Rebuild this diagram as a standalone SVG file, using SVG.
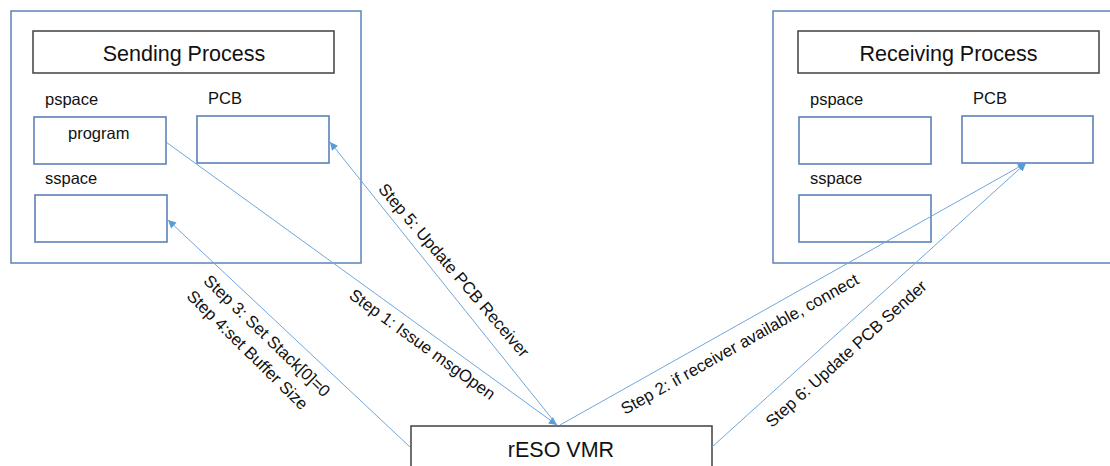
<svg xmlns="http://www.w3.org/2000/svg" width="1110" height="466" viewBox="0 0 1110 466">
<style>
.outer{fill:#fff;stroke:#5b83b8;stroke-width:1.5}
.title{fill:#fff;stroke:#404040;stroke-width:1.5}
.inner{fill:#fff;stroke:#5b83b8;stroke-width:1.6}
.conn{fill:none;stroke:#6fa6dc;stroke-width:1}
.big{font-family:"Liberation Sans",Arial,sans-serif;font-size:21.5px;fill:#111}
.lbl{font-family:"Liberation Sans",Arial,sans-serif;font-size:16.5px;fill:#111}
.step{font-family:"Liberation Sans",Arial,sans-serif;font-size:16.8px;fill:#111;text-anchor:middle}
</style>
<defs>
<marker id="ah" viewBox="0 0 10 10" refX="10" refY="5" markerWidth="9" markerHeight="8" markerUnits="userSpaceOnUse" orient="auto">
<path d="M0,0 L10,5 L0,10 z" fill="#5b9bd5"/>
</marker>
</defs>
<rect width="1110" height="466" fill="#fff"/>
<g id="sending">
<rect class="outer" x="11" y="11" width="350" height="252"/>
<g id="sending-title"><rect class="title" x="33" y="31" width="301" height="42"/><text class="big" x="184" y="60.5" text-anchor="middle">Sending Process</text></g>
<text class="lbl" x="45" y="105">pspace</text>
<text class="lbl" x="208" y="104">PCB</text>
<g id="s-pspace"><rect class="inner" x="34" y="117" width="132" height="47"/><text class="lbl" x="68" y="139">program</text></g>
<g id="s-pcb"><rect class="inner" x="197" y="116" width="132" height="47"/></g>
<text class="lbl" x="45" y="184">sspace</text>
<g id="s-sspace"><rect class="inner" x="35" y="195" width="132" height="47"/></g>
</g>
<g id="receiving">
<rect class="outer" x="773" y="11" width="345" height="252"/>
<g id="receiving-title"><rect class="title" x="798" y="31" width="301" height="42"/><text class="big" x="948.5" y="60.5" text-anchor="middle">Receiving Process</text></g>
<text class="lbl" x="810" y="105">pspace</text>
<text class="lbl" x="973" y="104">PCB</text>
<g id="r-pspace"><rect class="inner" x="799" y="117" width="132" height="47"/></g>
<g id="r-pcb"><rect class="inner" x="962" y="116" width="131" height="47"/></g>
<text class="lbl" x="810" y="184">sspace</text>
<g id="r-sspace"><rect class="inner" x="799" y="195" width="132" height="47"/></g>
</g>
<g id="vmr">
<rect class="title" x="411" y="426" width="301" height="60"/>
<text class="big" x="561" y="456.5" text-anchor="middle">rESO VMR</text>
</g>
<g id="connectors">
<line class="conn" x1="166" y1="142" x2="557" y2="425" marker-end="url(#ah)"/>
<line class="conn" x1="557" y1="425" x2="330" y2="142" marker-end="url(#ah)"/>
<line class="conn" x1="410" y1="447" x2="168" y2="220" marker-end="url(#ah)"/>
<line class="conn" x1="560" y1="425" x2="1026" y2="163" marker-end="url(#ah)"/>
<line class="conn" x1="712" y1="447" x2="1026" y2="163" marker-end="url(#ah)"/>
<text class="step" transform="translate(263,340) rotate(43.8)">Step 3: Set Stack[0]=0</text>
<text class="step" transform="translate(243.5,354) rotate(44.5)">Step 4:set Buffer Size</text>
<text class="step" transform="translate(419,349) rotate(36)">Step 1: Issue msgOpen</text>
<text class="step" transform="translate(449.5,274) rotate(49.5)">Step 5: Update PCB Receiver</text>
<text class="step" transform="translate(742.5,349) rotate(-29.3)">Step 2: if receiver available, connect</text>
<text class="step" transform="translate(850,358) rotate(-42)">Step 6: Update PCB Sender</text>
</g>
</svg>
